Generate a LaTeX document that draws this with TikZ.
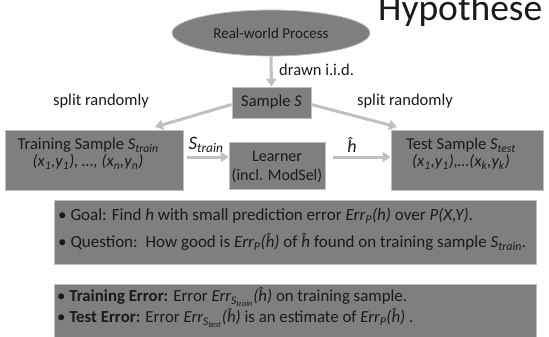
\documentclass[tikz,border=0pt]{standalone}
\usepackage{fontspec}
\setmainfont{Carlito}
\usetikzlibrary{shapes.geometric,arrows.meta}
\definecolor{boxfill}{HTML}{7F7F7F}
\definecolor{boxline}{HTML}{BFBFBF}
\definecolor{arrgray}{HTML}{C0C0C0}
\definecolor{txt}{HTML}{1A1A1A}
\newcommand{\sub}[1]{\textsubscript{#1}}
\begin{document}
\begin{tikzpicture}[x=1pt,y=-1pt,
  box/.style={draw=boxline,fill=boxfill,line width=0.8pt,inner sep=0pt,rectangle},
  lbl/.style={text=txt,inner sep=0pt,font=\fontsize{16.5}{19}\selectfont},
  big/.style={text=txt,inner sep=0pt,font=\fontsize{16.6}{17}\selectfont},
  arr/.style={draw=arrgray,line width=3pt,-{Triangle[length=8pt,width=10pt]}},
  ]
\useasboundingbox (0,0) rectangle (549,337);
\clip (0,0) rectangle (549,337);
\node[lbl,anchor=base west,font=\fontsize{37.5}{40}\selectfont] (title) at (378,21) {Hypothese};
% ellipse
\node[ellipse,draw=boxline,fill=boxfill,line width=0.8pt,minimum width=198pt,minimum height=46pt,inner sep=0pt] (rw) at (271,33) {};
\node[lbl,font=\fontsize{15}{17}\selectfont] (rwt) at (271,33) {Real-world Process};
% sample
\node[box,minimum width=79pt,minimum height=31pt] (sample) at (271.5,102.5) {};
\node[lbl] (samplet) at (271.5,102) {Sample \textit{S}};
% training
\node[box,minimum width=178pt,minimum height=60pt] (train) at (94,160) {};
\node[big,align=center] (traint) at (88,154) {Training Sample \textit{S}\sub{\textit{train}}\\ \textit{(x\sub{1},y\sub{1}), …, (x\sub{n},y\sub{n})}};
% learner
\node[box,minimum width=96pt,minimum height=47pt] (learner) at (277,165.5) {};
\node[lbl,align=center,font=\fontsize{16}{19}\selectfont] (learnert) at (277,166.5) {Learner\\(incl. ModSel)};
% test
\node[box,minimum width=152pt,minimum height=60pt] (test) at (467,160) {};
\node[big,align=center] (testt) at (461,154) {Test Sample \textit{S}\sub{\textit{test}}\\ \textit{(x\sub{1},y\sub{1}),…(x\sub{k},y\sub{k})}};
% arrows
\draw[arr] (rw.south) -- (sample.north);
\node[lbl,anchor=west] (drawn) at (279,70) {drawn i.i.d.};
\coordinate (lt) at (155,127);
\coordinate (rt) at (397,127);
\draw[arr] ([yshift=-2pt]sample.west) -- (lt);
\draw[arr] ([yshift=-2pt]sample.east) -- (rt);
\node[lbl] (splitl) at (101,101) {split randomly};
\node[lbl] (splitr) at (405,101) {split randomly};
\draw[arr] ([xshift=4pt,yshift=3pt]train.east) coordinate (a1) -- (a1 -| learner.west);
\node[big,font=\fontsize{19}{20}\selectfont] (strain) at (206,145) {\textit{S}\sub{\textit{train}}};
\draw[arr] ([xshift=8pt,yshift=8.5pt]learner.east) coordinate (a2) -- (a2 -| test.west);
\node[big,font=\fontsize{18}{20}\selectfont] (hhat) at (352,145) {\textit{ĥ}};
% goal box
\node[box,minimum width=482pt,minimum height=64pt] (goal) at (295,232) {};
\node[lbl,anchor=west,font=\fontsize{17}{19}\selectfont] (g1) at (58,216) {• Goal: Find \textit{h} with small prediction error \textit{Err\sub{P}(h)} over \textit{P(X,Y)}.};
\node[lbl,anchor=west,font=\fontsize{17}{19}\selectfont] (g2) at (58,242) {• Question:\, How good is \textit{Err\sub{P}(ĥ)} of \textit{ĥ} found on training sample \textit{S}\sub{\textit{train}}.};
% error box
\node[box,minimum width=482pt,minimum height=62pt] (err) at (295,315) {};
\node[lbl,anchor=west,font=\fontsize{16.8}{19}\selectfont] (e1) at (57,297) {• \textbf{Training Error:} Error \textit{Err\sub{S\sub{train}}(ĥ)} on training sample.};
\node[lbl,anchor=west,font=\fontsize{16.8}{19}\selectfont] (e2) at (57,318) {• \textbf{Test Error:} Error \textit{Err\sub{S\sub{test}}(ĥ)} is an estimate of \textit{Err\sub{P}(ĥ)} .};
\end{tikzpicture}
\end{document}
